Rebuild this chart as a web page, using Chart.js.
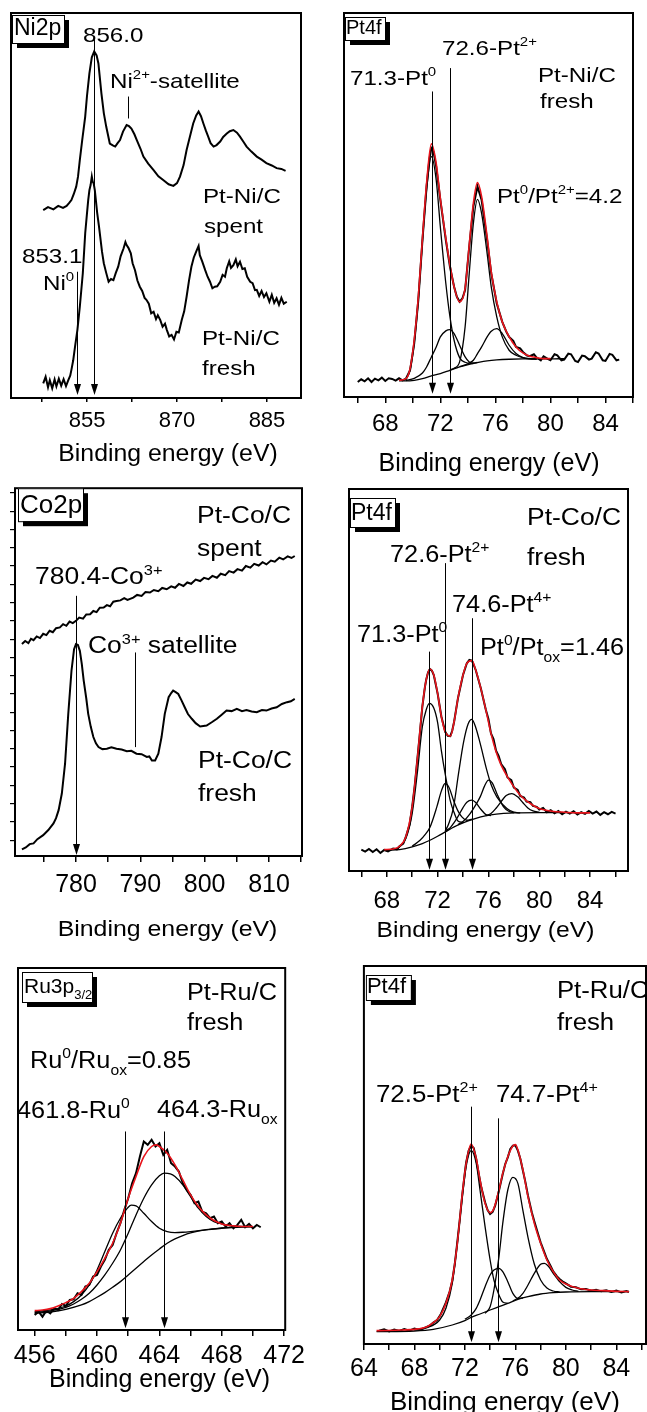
<!DOCTYPE html>
<html>
<head>
<meta charset="utf-8">
<script src="https://cdn.jsdelivr.net/npm/chart.js@4.4.1/dist/chart.umd.min.js"></script>
<style>
  body { margin: 0; background: #fff; width: 647px; height: 1412px; overflow: hidden; position: relative; }
  canvas { position: absolute; }
</style>
</head>
<body>
<script>
// ---------------------------------------------------------------
// Data (binding energy in eV, intensity in arbitrary units)
// ---------------------------------------------------------------

// Ni2p, Pt-Ni/C
const niTicks = [847.5, 855, 862.5, 870, 877.5, 885];
const niTickLabels = ['', '855', '', '870', '', '885'];
const niSpent = [[847.7,48.8],[848.5,49.6],[849.4,49.0],[850.2,49.9],[851.0,49.4],[851.6,49.9],[852.0,50.6],[852.4,51.4],[852.8,53.0],[853.2,54.9],[853.5,57.5],[853.8,61.8],[854.2,67.0],[854.7,73.1],[855.0,78.5],[855.4,84.3],[855.8,88.5],[856.2,90.0],[856.6,89.0],[856.9,86.9],[857.4,79.1],[857.8,74.0],[858.2,70.5],[858.8,66.1],[859.3,65.6],[859.7,65.3],[860.1,66.2],[860.5,67.0],[861.0,69.2],[861.6,70.9],[862.0,70.6],[862.4,70.0],[862.9,68.5],[863.3,67.0],[863.9,64.8],[864.4,62.7],[865.2,60.9],[866.1,59.2],[866.9,57.6],[867.7,56.6],[868.6,55.5],[869.4,55.1],[870.0,55.8],[870.5,57.5],[871.1,60.5],[871.6,64.4],[872.2,68.2],[872.7,71.3],[873.2,73.4],[873.6,74.4],[874.0,73.2],[874.4,71.3],[874.8,69.5],[875.2,67.9],[875.6,66.2],[876.1,65.3],[876.6,65.7],[877.2,66.6],[877.7,67.8],[878.3,68.7],[878.8,69.3],[879.4,69.6],[880.0,68.9],[880.5,67.9],[881.1,66.5],[881.6,65.3],[882.4,64.0],[883.3,62.7],[884.1,61.9],[884.9,61.0],[885.8,60.4],[886.6,59.7],[887.4,59.5],[888.1,59.0]];
const niFresh = [[847.7,3.8],[848.1,5.5],[848.5,2.8],[848.8,4.6],[849.2,2.5],[849.6,4.8],[849.9,3.0],[850.3,5.0],[850.7,3.2],[851.1,4.9],[851.5,3.1],[851.9,4.7],[852.2,5.8],[852.4,7.3],[852.7,9.8],[853.0,13.3],[853.4,17.7],[853.8,23.7],[854.3,32.4],[854.7,42.8],[855.0,48.0],[855.2,51.4],[855.4,54.0],[855.6,55.3],[855.8,57.5],[855.95,56.2],[856.1,55.8],[856.3,54.0],[856.5,51.0],[856.7,48.0],[857.0,44.5],[857.2,41.9],[857.5,38.0],[857.8,35.0],[858.2,32.5],[858.6,30.2],[859.0,30.9],[859.4,30.6],[859.8,32.5],[860.2,34.1],[860.6,36.8],[861.1,38.9],[861.4,40.5],[861.6,39.7],[861.9,39.0],[862.3,37.6],[862.6,35.0],[863.0,33.2],[863.4,30.5],[863.8,28.9],[864.2,27.8],[864.6,26.0],[864.9,25.5],[865.3,24.5],[865.7,22.0],[866.1,22.4],[866.5,20.5],[866.8,21.5],[867.2,20.3],[867.6,18.5],[868.0,19.3],[868.3,17.7],[868.7,16.0],[869.1,16.4],[869.5,15.2],[869.9,17.2],[870.3,17.0],[870.8,20.3],[871.2,22.5],[871.6,26.3],[872.0,30.5],[872.4,34.1],[872.8,36.5],[873.3,38.4],[873.6,39.5],[873.8,37.1],[874.2,35.5],[874.7,33.2],[875.1,31.5],[875.5,30.2],[875.9,28.5],[876.3,28.9],[876.7,29.0],[877.2,30.2],[877.6,32.0],[878.0,31.5],[878.3,33.7],[878.7,35.5],[879.0,33.8],[879.4,34.5],[879.8,36.0],[880.1,34.2],[880.5,35.4],[880.9,33.5],[881.3,33.7],[881.7,31.5],[882.2,30.2],[882.6,29.8],[883.0,28.0],[883.3,28.1],[883.7,26.5],[884.1,27.8],[884.5,26.2],[884.9,27.2],[885.4,25.0],[885.8,26.8],[886.2,24.7],[886.6,25.9],[887.0,24.2],[887.4,26.0],[887.8,24.5],[888.3,25.0]];

// Pt4f, Pt-Ni/C fresh
const ptTicks = [66, 68, 70, 72, 74, 76, 78, 80, 82, 84, 86];
const ptTickLabels = ['', '68', '', '72', '', '76', '', '80', '', '84', ''];
const ptNiData = [[66.0,4.5],[66.25,5.3],[66.5,4.7],[66.75,5.6],[67.0,4.5],[67.25,5.5],[67.5,5.0],[67.75,5.8],[68.0,4.8],[68.25,5.6],[68.5,5.4],[68.75,4.9],[69.0,5.6],[69.25,5.0],[69.5,5.5],[69.8,8.0],[70.1,16.0],[70.4,29.0],[70.7,47.0],[71.0,63.0],[71.2,71.0],[71.35,74.5],[71.5,73.5],[71.7,69.0],[72.0,59.0],[72.4,47.0],[72.7,39.0],[73.0,33.0],[73.2,30.0],[73.4,28.5],[73.6,29.5],[73.8,32.0],[74.1,45.0],[74.4,57.0],[74.7,63.0],[75.0,59.0],[75.4,47.0],[75.7,37.0],[76.1,28.0],[76.5,22.5],[76.8,19.5],[77.0,18.0],[77.3,16.8],[77.5,15.0],[77.8,14.6],[78.0,13.5],[78.3,12.4],[78.5,12.2],[78.8,12.8],[79.0,11.8],[79.3,11.0],[79.5,12.2],[79.8,11.4],[80.0,11.0],[80.3,12.8],[80.5,12.5],[80.8,11.0],[81.0,11.2],[81.3,13.0],[81.5,12.8],[81.8,10.8],[82.0,10.5],[82.3,12.4],[82.5,12.2],[82.8,11.2],[83.0,11.5],[83.3,13.4],[83.5,13.0],[83.8,11.0],[84.0,10.8],[84.3,12.9],[84.5,12.6],[84.8,11.0],[85.0,11.2]];
const ptNiEnv = [[69.0,5.0],[69.5,5.5],[69.8,8.5],[70.1,17.0],[70.4,30.0],[70.7,47.5],[71.0,64.0],[71.35,75.8],[71.7,70.0],[72.0,59.5],[72.4,47.5],[72.7,39.5],[73.0,33.0],[73.4,28.5],[73.8,32.5],[74.1,45.5],[74.4,58.0],[74.7,64.2],[75.0,60.0],[75.4,48.0],[75.7,37.5],[76.1,28.5],[76.5,22.5],[77.0,18.0],[77.5,15.0],[78.0,13.2],[78.5,12.2],[79.0,11.8],[79.5,11.5],[80.0,11.5]];
const ptNiPt0a = [[69.5,5.2],[69.8,8.0],[70.1,16.0],[70.4,29.0],[70.7,46.5],[71.0,62.0],[71.35,72.0],[71.7,65.0],[72.0,51.0],[72.4,34.0],[72.7,24.0],[73.0,17.0],[73.4,11.8],[73.8,10.4],[74.4,10.0]];
const ptNiPt0b = [[72.7,8.1],[73.0,8.6],[73.4,10.5],[73.8,21.0],[74.1,37.0],[74.4,52.0],[74.7,59.2],[75.0,55.0],[75.4,43.0],[75.7,33.0],[76.1,24.0],[76.5,18.0],[77.0,14.0],[77.5,12.5],[78.0,11.8],[78.5,11.5],[79.0,11.4]];
const ptNiPt2a = [[69.5,4.9],[70.1,5.6],[70.7,7.2],[71.0,9.0],[71.35,12.0],[71.7,15.0],[72.0,18.0],[72.4,19.8],[72.7,20.2],[73.0,19.0],[73.4,15.5],[73.8,12.0],[74.1,10.5],[74.4,10.2],[74.7,10.4]];
const ptNiPt2b = [[73.4,9.1],[73.8,9.6],[74.1,10.2],[74.4,11.0],[74.7,13.0],[75.0,15.0],[75.4,18.0],[75.7,19.7],[76.1,20.5],[76.5,19.0],[77.0,15.5],[77.5,13.0],[78.0,11.8],[78.5,11.4],[79.0,11.3]];
const ptNiBg = [[69.0,4.8],[69.5,4.8],[70.1,5.0],[70.7,5.5],[71.35,6.3],[72.0,7.0],[72.7,8.0],[73.4,9.0],[74.1,9.8],[74.7,10.3],[75.4,10.8],[76.1,11.1],[77.0,11.3],[78.0,11.4],[79.0,11.4],[80.0,11.4],[81.0,11.5]];

// Co2p, Pt-Co/C
const coTicks = [775, 780, 785, 790, 795, 800, 805, 810, 815];
const coTickLabels = ['', '780', '', '790', '', '800', '', '810', ''];
const coYTicks = [0,10,20,30,40,50,60,70,80,90,100,110,120,130,140,150,160,170,180,190];
const coSpent = [[771.6,107.3],[772.1,109.0],[772.6,107.8],[773.0,110.2],[773.4,109.4],[773.9,111.5],[774.4,110.6],[774.9,112.9],[775.4,112.2],[775.9,114.6],[776.4,113.8],[776.9,116.0],[777.5,116.4],[778.0,118.2],[778.5,117.3],[779.0,119.6],[779.5,118.8],[780.0,120.0],[780.5,121.8],[781.1,121.2],[781.6,123.5],[782.2,123.6],[782.7,125.4],[783.2,124.8],[783.7,127.2],[784.3,127.3],[784.8,128.6],[785.3,128.0],[785.8,130.5],[786.3,130.9],[786.9,131.2],[787.5,132.4],[788.0,131.5],[788.9,132.7],[789.5,134.2],[790.2,133.6],[790.8,135.8],[791.5,135.5],[792.1,136.9],[792.8,136.2],[793.4,138.0],[794.1,137.3],[794.8,138.9],[795.4,138.1],[796.0,140.2],[796.7,139.1],[797.3,141.0],[797.9,140.3],[798.6,142.6],[799.3,141.8],[799.9,143.5],[800.6,142.8],[801.2,144.6],[801.9,143.6],[802.5,145.8],[803.2,145.0],[803.8,147.2],[804.5,146.4],[805.1,148.3],[805.8,147.5],[806.4,150.0],[807.1,149.1],[807.7,151.2],[808.4,150.3],[809.0,152.1],[809.6,150.9],[810.3,153.0],[810.9,152.4],[811.6,154.6],[812.2,153.6],[812.9,155.3],[813.5,154.4],[814.0,155.5]];
const coFresh = [[771.6,-5.1],[772.2,-4.0],[772.8,-2.2],[773.4,-1.8],[774.0,0.5],[774.9,2.7],[775.7,5.5],[776.5,9.1],[776.9,12.0],[777.3,16.4],[777.8,25.5],[778.3,41.8],[778.8,69.1],[779.3,92.7],[779.7,104.5],[780.0,107.3],[780.3,106.8],[780.6,103.6],[780.9,96.5],[781.2,87.3],[781.6,77.5],[781.9,69.1],[782.3,62.0],[782.7,56.4],[783.1,53.0],[783.5,50.9],[784.1,49.8],[784.8,50.0],[785.5,50.8],[786.3,50.0],[787.1,49.6],[787.9,48.7],[788.6,48.9],[789.4,47.3],[790.2,47.0],[791.0,45.5],[791.4,45.8],[791.8,43.6],[792.3,43.6],[792.8,47.3],[793.3,56.4],[793.8,69.1],[794.4,78.2],[794.8,80.5],[795.1,81.8],[795.5,81.0],[795.9,80.0],[796.4,76.5],[796.9,72.7],[797.4,69.0],[798.0,66.4],[798.6,64.0],[799.3,62.2],[800.3,62.7],[801.1,64.5],[801.9,66.4],[802.6,68.5],[803.4,70.9],[804.2,70.6],[805.0,71.8],[805.8,70.6],[806.5,71.2],[807.3,70.4],[808.1,70.0],[808.9,71.2],[809.6,70.9],[810.4,72.0],[811.2,72.7],[812.0,74.5],[812.8,75.5],[813.4,76.0],[814.0,77.3]];

// Pt4f, Pt-Co/C fresh
const ptCoData = [[66.0,6.4],[66.3,5.8],[66.6,6.6],[66.9,5.7],[67.2,6.5],[67.5,5.4],[67.8,6.3],[68.1,5.9],[68.5,6.7],[68.8,6.5],[69.0,7.4],[69.3,8.2],[69.5,10.2],[69.8,14.0],[70.0,19.2],[70.2,25.5],[70.4,33.2],[70.6,41.0],[70.8,49.2],[71.0,55.0],[71.1,57.2],[71.25,59.5],[71.4,60.5],[71.55,60.0],[71.7,58.7],[72.0,53.2],[72.3,46.2],[72.6,41.7],[72.8,40.5],[73.0,40.4],[73.15,42.0],[73.3,44.7],[73.6,51.7],[74.0,58.7],[74.3,62.2],[74.5,63.2],[74.7,63.0],[75.0,60.2],[75.4,54.7],[75.8,48.2],[76.0,45.5],[76.2,41.2],[76.4,39.5],[76.6,36.0],[76.8,34.5],[77.0,32.0],[77.3,30.5],[77.5,28.0],[77.8,27.2],[78.0,25.0],[78.3,24.3],[78.5,22.5],[78.8,22.0],[79.0,20.8],[79.3,20.6],[79.5,19.5],[79.8,19.2],[80.0,18.4],[80.3,18.9],[80.6,17.6],[80.9,18.2],[81.2,17.3],[81.5,18.0],[81.8,17.0],[82.1,17.8],[82.4,17.2],[82.7,17.9],[83.0,16.9],[83.3,17.6],[83.6,17.1],[83.9,18.0],[84.2,17.2],[84.5,17.8],[84.8,16.8],[85.1,17.6],[85.4,17.0],[85.7,17.7],[86.0,17.2]];
const ptCoEnv = [[67.8,6.4],[68.5,6.6],[69.0,7.4],[69.5,10.2],[70.0,19.2],[70.4,33.2],[70.8,49.2],[71.1,57.2],[71.4,60.5],[71.7,58.7],[72.0,53.2],[72.3,46.2],[72.6,41.7],[73.0,40.4],[73.3,44.7],[73.6,51.7],[74.0,58.7],[74.3,62.2],[74.7,63.0],[75.0,60.2],[75.4,54.7],[75.8,48.2],[76.2,41.2],[76.6,35.7],[77.0,31.7],[77.5,28.2],[78.0,25.2],[78.5,22.7],[79.0,21.0],[79.5,19.7],[80.0,18.7],[81.0,17.9],[82.0,17.6],[83.0,17.4],[84.0,17.4]];
const ptCoPt0a = [[68.5,6.4],[69.0,7.2],[69.5,9.7],[70.0,17.2],[70.4,29.2],[70.8,43.2],[71.1,48.2],[71.35,50.2],[71.7,48.8],[72.0,44.5],[72.3,36.0],[72.6,29.0],[73.0,21.0],[73.3,17.5],[73.6,15.0],[74.0,14.6]];
const ptCoPt0b = [[72.6,12.0],[72.86,14.0],[73.25,19.0],[73.64,29.0],[74.04,38.5],[74.4,44.0],[74.69,45.4],[75.0,43.0],[75.35,38.2],[75.87,30.2],[76.2,26.0],[76.66,22.2],[77.45,18.7],[78.0,17.6],[78.5,17.4]];
const ptCoPt2a = [[70.0,7.4],[70.62,9.2],[71.0,10.8],[71.41,13.2],[71.94,19.2],[72.3,24.0],[72.59,26.2],[72.9,25.0],[73.25,21.2],[73.6,18.0],[73.91,16.2],[74.3,15.2],[74.7,15.5]];
const ptCoPt2b = [[73.6,13.9],[74.0,14.8],[74.56,17.2],[75.0,19.8],[75.35,22.2],[75.7,25.5],[76.0,27.2],[76.3,26.4],[76.66,23.2],[77.19,19.2],[77.6,17.9],[78.0,17.4]];
const ptCoPt4a = [[72.6,12.0],[73.0,13.0],[73.3,14.5],[73.6,16.3],[74.0,19.0],[74.3,20.6],[74.69,21.2],[75.0,20.5],[75.4,18.5],[75.8,16.9],[76.2,16.6]];
const ptCoPt4b = [[75.8,16.6],[76.2,17.2],[76.6,18.8],[77.0,20.8],[77.4,22.6],[77.84,23.2],[78.3,22.2],[78.7,20.5],[79.1,18.9],[79.5,18.0],[80.0,17.6]];
const ptCoBg = [[68.0,6.2],[69.0,6.4],[70.0,7.2],[70.8,8.2],[71.4,9.2],[72.0,10.4],[72.6,11.7],[73.3,13.2],[74.0,14.4],[74.7,15.4],[75.4,16.2],[76.2,16.8],[77.0,17.2],[78.0,17.4],[80.0,17.5],[84.0,17.5]];

// Ru3p3/2, Pt-Ru/C fresh
const ruTicks = [456, 458, 460, 462, 464, 466, 468, 470, 472];
const ruTickLabels = ['456', '', '460', '', '464', '', '468', '', '472'];
const ruData = [[456.0,4.5],[456.25,5.5],[456.5,4.0],[456.75,5.8],[457.0,5.0],[457.25,6.5],[457.5,6.0],[457.75,7.8],[458.0,7.2],[458.25,9.0],[458.5,9.2],[458.75,11.0],[459.0,10.5],[459.25,13.0],[459.5,13.5],[459.75,16.0],[460.0,16.5],[460.25,19.0],[460.5,21.0],[460.75,24.0],[461.0,25.5],[461.25,29.0],[461.5,32.0],[461.75,36.0],[462.0,39.5],[462.25,44.0],[462.5,47.0],[462.75,52.0],[463.0,56.5],[463.25,55.5],[463.5,57.0],[463.75,55.0],[464.0,56.0],[464.25,52.5],[464.5,54.0],[464.75,50.0],[465.0,49.0],[465.25,47.5],[465.5,44.0],[465.75,42.0],[466.0,40.5],[466.25,38.0],[466.5,38.5],[466.75,35.5],[467.0,35.0],[467.25,33.5],[467.5,34.0],[467.75,32.0],[468.0,32.5],[468.25,31.0],[468.5,32.0],[468.75,30.5],[469.0,31.5],[469.25,33.0],[469.5,30.8],[469.75,31.8],[470.0,30.5],[470.25,31.5],[470.5,30.8]];
const ruEnv = [[456.0,5.8],[456.5,6.0],[457.0,6.4],[457.5,7.2],[458.0,8.2],[458.5,9.5],[459.0,11.5],[459.5,14.0],[460.0,17.5],[460.5,21.5],[461.0,26.0],[461.5,32.0],[462.0,39.5],[462.5,46.0],[463.0,52.0],[463.5,55.0],[463.8,55.5],[464.0,55.0],[464.5,53.0],[465.0,49.5],[465.5,45.0],[466.0,40.5],[466.5,37.0],[467.0,34.5],[467.5,32.8],[468.0,31.8],[468.5,31.3],[469.0,31.1],[469.5,31.0],[470.0,31.0]];
const ruMetal = [[456.0,5.5],[457.0,6.0],[458.0,7.2],[458.5,8.5],[459.0,10.5],[459.5,13.5],[460.0,18.0],[460.5,23.5],[461.0,29.0],[461.5,33.5],[462.0,36.8],[462.2,37.4],[462.5,37.2],[463.0,35.0],[463.5,32.5],[464.0,30.5],[464.5,29.5],[465.0,29.2],[465.5,29.3],[466.0,29.5],[467.0,30.0],[468.0,30.5],[469.0,30.8],[470.0,31.0]];
const ruOx = [[456.0,5.2],[457.0,5.7],[458.0,6.8],[458.5,7.8],[459.0,9.2],[459.5,11.0],[460.0,13.5],[460.5,16.5],[461.0,20.0],[461.5,24.0],[462.0,29.0],[462.5,34.5],[463.0,39.5],[463.5,43.5],[464.0,46.2],[464.3,47.0],[464.7,46.8],[465.0,46.0],[465.5,43.5],[466.0,40.0],[466.5,36.5],[467.0,34.0],[467.5,32.5],[468.0,31.8],[468.5,31.3],[469.0,31.1],[470.0,31.0]];
const ruBg = [[456.0,5.0],[457.0,5.4],[458.0,6.2],[459.0,7.5],[459.5,8.5],[460.0,9.8],[460.5,11.2],[461.0,12.8],[461.5,14.5],[462.0,16.5],[462.5,18.5],[463.0,20.5],[463.5,22.5],[464.0,24.3],[464.5,26.0],[465.0,27.3],[465.5,28.3],[466.0,29.1],[467.0,30.1],[468.0,30.6],[469.0,30.9],[470.0,31.0]];

// Pt4f, Pt-Ru/C fresh
const ptRuTicks = [64, 66, 68, 70, 72, 74, 76, 78, 80, 82, 84, 86];
const ptRuTickLabels = ['64', '', '68', '', '72', '', '76', '', '80', '', '84', ''];
const ptRuData = [[65.2,4.0],[65.6,4.4],[66.0,3.8],[66.4,4.3],[66.8,3.9],[67.2,4.5],[67.6,4.0],[68.0,4.6],[68.4,4.2],[68.8,4.8],[69.2,5.5],[69.5,6.4],[69.8,7.2],[70.1,9.0],[70.5,12.5],[70.8,15.8],[71.0,19.0],[71.2,24.0],[71.4,30.5],[71.6,37.5],[71.8,45.0],[72.0,51.5],[72.1,54.5],[72.3,58.0],[72.5,59.5],[72.7,58.8],[72.9,55.5],[73.1,51.0],[73.3,47.0],[73.6,42.5],[73.8,40.2],[74.0,39.0],[74.2,39.6],[74.4,41.5],[74.7,46.0],[75.0,51.0],[75.2,54.0],[75.4,56.0],[75.6,58.5],[75.8,59.5],[76.0,59.6],[76.2,58.0],[76.4,55.5],[76.6,52.0],[76.8,48.5],[77.0,44.5],[77.3,39.5],[77.5,36.8],[77.8,33.0],[78.0,30.5],[78.3,27.5],[78.5,25.5],[78.8,23.3],[79.0,21.8],[79.3,20.3],[79.5,19.5],[79.8,18.6],[80.0,18.2],[80.4,17.2],[80.8,17.0],[81.2,16.4],[81.6,16.5],[82.0,16.0],[82.4,16.3],[82.8,15.8],[83.2,16.1],[83.6,15.6],[84.0,16.0],[84.4,15.5],[84.8,15.9],[85.0,15.6]];
const ptRuEnv = [[65.0,4.0],[67.0,4.2],[68.0,4.4],[69.0,5.2],[69.5,6.4],[70.0,8.2],[70.5,12.2],[71.0,19.2],[71.4,30.2],[71.8,45.2],[72.1,54.2],[72.5,60.0],[72.9,55.7],[73.2,49.2],[73.6,42.2],[74.0,39.4],[74.3,40.7],[74.7,46.2],[75.0,51.2],[75.4,56.2],[75.8,59.4],[76.0,59.8],[76.2,58.2],[76.6,52.2],[77.0,44.2],[77.5,36.2],[78.0,30.2],[78.5,25.2],[79.0,21.7],[79.5,19.2],[80.0,18.0],[81.0,16.7],[82.0,16.2],[83.0,16.0],[84.0,15.8],[85.0,15.7]];
const ptRuPt2a = [[68.0,4.2],[69.0,4.9],[70.0,7.2],[70.5,10.7],[71.0,18.2],[71.4,30.2],[71.8,44.2],[72.1,53.2],[72.5,58.0],[72.9,54.2],[73.2,46.2],[73.6,35.2],[74.0,25.2],[74.3,19.2],[74.7,14.7],[75.0,12.6],[75.4,12.2]];
const ptRuPt2b = [[73.6,9.2],[74.0,11.2],[74.3,16.2],[74.7,26.2],[75.0,36.2],[75.4,46.2],[75.8,50.0],[76.2,48.2],[76.6,40.0],[77.0,32.0],[77.5,24.0],[78.0,19.2],[78.5,16.8],[79.0,15.9],[79.5,15.6]];
const ptRuPt4a = [[72.0,7.4],[72.5,8.7],[72.9,10.7],[73.2,13.2],[73.6,17.2],[74.0,20.7],[74.3,22.2],[74.7,22.7],[75.0,21.7],[75.4,18.7],[75.8,15.2],[76.2,13.7],[76.6,13.8]];
const ptRuPt4b = [[75.8,13.0],[76.2,13.7],[76.6,15.2],[77.0,17.7],[77.5,21.2],[78.0,23.9],[78.3,24.2],[78.6,23.4],[79.0,21.2],[79.5,18.7],[80.0,17.0],[80.5,16.2],[81.0,15.8]];
const ptRuBg = [[65.0,3.7],[68.0,3.9],[69.5,4.4],[71.0,5.7],[72.0,7.0],[72.5,8.0],[73.2,9.0],[74.0,10.2],[74.7,11.2],[75.4,12.2],[76.2,13.4],[77.0,14.2],[78.0,15.0],[79.0,15.4],[80.0,15.6],[82.0,15.7],[85.0,15.7]];

// ---------------------------------------------------------------
// Helpers
// ---------------------------------------------------------------
const FONT = '"Liberation Sans", Arial, Helvetica, sans-serif';
const RED = '#e8141c';

function pts(arr) {
  return arr.map(p => ({ x: p[0], y: p[1] }));
}

function raw(arr) {      // measured spectrum
  return { data: pts(arr), borderColor: '#000', borderWidth: 2, pointRadius: 0, tension: 0, fill: false };
}
function fit(arr) {      // fitted component / background
  return { data: pts(arr), borderColor: '#000', borderWidth: 1.3, pointRadius: 0, cubicInterpolationMode: 'monotone', fill: false };
}
function envelope(arr) { // sum of the fit
  return { data: pts(arr), borderColor: RED, borderWidth: 1.6, pointRadius: 0, cubicInterpolationMode: 'monotone', fill: false };
}

// text with super/subscripts, optional horizontal stretch
function rich(ctx, parts, x, y, size, sx) {
  ctx.save();
  ctx.translate(x, y);
  ctx.scale(sx || 1, 1);
  ctx.textBaseline = 'alphabetic';
  ctx.textAlign = 'left';
  let cx = 0;
  parts.forEach(p => {
    const txt = typeof p === 'string' ? p : p[0];
    const kind = typeof p === 'string' ? '' : p[1];
    const fs = kind ? size * 0.62 : size;
    const dy = kind === 'sup' ? -size * 0.42 : (kind === 'sub' ? size * 0.3 : 0);
    ctx.font = fs + 'px ' + FONT;
    ctx.fillText(txt, cx, dy);
    cx += ctx.measureText(txt).width;
  });
  ctx.restore();
}

function decor(cfg) {
  return {
    id: 'decor',
    afterDraw(chart) {
      const { ctx, chartArea: a, scales: { x, y } } = chart;
      ctx.save();
      ctx.fillStyle = '#000';
      ctx.strokeStyle = '#000';

      // arrows / marker lines
      cfg.arrows.forEach(ar => {
        const px = Math.round(x.getPixelForValue(ar.e)) + 0.5;
        const y0 = y.getPixelForValue(ar.from);
        const y1 = y.getPixelForValue(ar.to);
        ctx.lineWidth = 1;
        ctx.beginPath();
        ctx.moveTo(px, y0);
        ctx.lineTo(px, ar.head ? y1 - 9 : y1);
        ctx.stroke();
        if (ar.head) {
          ctx.beginPath();
          ctx.moveTo(px, y1);
          ctx.lineTo(px - 3.5, y1 - 11);
          ctx.lineTo(px + 3.5, y1 - 11);
          ctx.closePath();
          ctx.fill();
        }
      });

      // frame
      ctx.lineWidth = 2;
      ctx.strokeRect(a.left, a.top, a.right - a.left, a.bottom - a.top);

      // panel label with drop shadow
      const b = cfg.box;
      ctx.fillRect(a.left + b.x + 5, a.top + b.y + 5, b.w, b.h);
      ctx.fillStyle = '#fff';
      ctx.fillRect(a.left + b.x, a.top + b.y, b.w, b.h);
      ctx.lineWidth = 1;
      ctx.strokeRect(a.left + b.x + 0.5, a.top + b.y + 0.5, b.w, b.h);
      ctx.fillStyle = '#000';
      rich(ctx, b.t, a.left + b.x + b.tx, a.top + b.ty, b.s, 1);

      // annotations
      cfg.notes.forEach(n => rich(ctx, n.t, a.left + n.x, a.top + n.y, n.s, n.sx));

      // axis title
      const t = cfg.title;
      ctx.save();
      ctx.translate(a.left + t.cx, a.bottom + t.dy);
      ctx.scale(t.sx, 1);
      ctx.font = t.s + 'px ' + FONT;
      ctx.textAlign = 'center';
      ctx.textBaseline = 'alphabetic';
      ctx.fillText('Binding energy (eV)', 0, 0);
      ctx.restore();

      ctx.restore();
    }
  };
}

function panel(cfg) {
  const padL = 14, padR = 8, padT = 6, bottomH = 92;
  const yW = cfg.yTicks ? 5 : 0;
  const f = cfg.frame;
  const w = padL + yW + f.w + padR;
  const h = padT + f.h + bottomH;
  const cv = document.createElement('canvas');
  cv.width = w; cv.height = h;
  cv.style.width = w + 'px'; cv.style.height = h + 'px';
  cv.style.left = (f.l - padL - yW) + 'px';
  cv.style.top = (f.t - padT) + 'px';
  document.body.appendChild(cv);

  const yScale = cfg.yTicks ? {
    min: cfg.yMin, max: cfg.yMax,
    afterBuildTicks: s => { s.ticks = cfg.yTicks.map(v => ({ value: v })); },
    afterFit: s => { s.width = yW; },
    ticks: { callback: () => '', padding: 0 },
    grid: { drawOnChartArea: false, drawTicks: true, tickLength: 5, color: '#000', lineWidth: 1.2 },
    border: { display: false }
  } : { display: false, min: cfg.yMin, max: cfg.yMax };

  new Chart(cv, {
    type: 'line',
    data: { datasets: cfg.datasets },
    options: {
      responsive: false,
      animation: false,
      events: [],
      layout: { padding: { left: padL, right: padR, top: padT, bottom: 0 } },
      plugins: { legend: { display: false }, tooltip: { enabled: false } },
      scales: {
        x: {
          type: 'linear',
          min: cfg.xMin, max: cfg.xMax,
          afterBuildTicks: s => { s.ticks = cfg.ticks.map(v => ({ value: v })); },
          afterFit: s => { s.height = bottomH; },
          ticks: {
            autoSkip: false, maxRotation: 0, padding: cfg.tickPad, color: '#000',
            font: { family: FONT, size: cfg.tickSize },
            callback: (v, i) => cfg.tickLabels[i]
          },
          grid: { drawOnChartArea: false, drawTicks: true, tickLength: cfg.tickLen, color: '#000', lineWidth: 1.5 },
          border: { display: false }
        },
        y: yScale
      }
    },
    plugins: [decor(cfg)]
  });
}

// ---------------------------------------------------------------
// Panels
// ---------------------------------------------------------------
const S = 'sup', B = 'sub';

panel({
  frame: { l: 11, t: 13, w: 290, h: 385 },
  xMin: 842.33, xMax: 890.67, yMin: 0, yMax: 100,
  ticks: niTicks, tickLabels: niTickLabels, tickSize: 22, tickPad: 6, tickLen: 4,
  datasets: [raw(niSpent), raw(niFresh)],
  box: { x: 1, y: 2, w: 52, h: 28, t: ['Ni2p'], s: 23, tx: 2, ty: 22 },
  notes: [
    { t: ['856.0'], x: 72, y: 29, s: 21, sx: 1.15 },
    { t: ['Ni', ['2+', S], '-satellite'], x: 99, y: 75, s: 21, sx: 1.15 },
    { t: ['Pt-Ni/C'], x: 192, y: 190, s: 21, sx: 1.15 },
    { t: ['spent'], x: 193, y: 220, s: 21, sx: 1.15 },
    { t: ['853.1'], x: 11, y: 250, s: 21, sx: 1.15 },
    { t: ['Ni', ['0', S]], x: 32, y: 277, s: 21, sx: 1.15 },
    { t: ['Pt-Ni/C'], x: 191, y: 332, s: 21, sx: 1.15 },
    { t: ['fresh'], x: 191, y: 362, s: 21, sx: 1.15 }
  ],
  arrows: [
    { e: 856.17, from: 93.0, to: 0.8, head: true },
    { e: 853.33, from: 32.8, to: 0.8, head: true },
    { e: 861.9, from: 78.3, to: 72.6, head: false }
  ],
  title: { cx: 157, dy: 63, s: 23, sx: 1.08 }
});

panel({
  frame: { l: 344, t: 13, w: 289, h: 384 },
  xMin: 65, xMax: 86, yMin: 0, yMax: 115,
  ticks: ptTicks, tickLabels: ptTickLabels, tickSize: 24, tickPad: 7, tickLen: 6,
  datasets: [envelope(ptNiEnv), fit(ptNiPt0a), fit(ptNiPt0b), fit(ptNiPt2a), fit(ptNiPt2b), fit(ptNiBg), raw(ptNiData)],
  box: { x: 1, y: 4, w: 40, h: 23, t: ['Pt4f'], s: 20, tx: 1, ty: 21 },
  notes: [
    { t: ['72.6-Pt', ['2+', S]], x: 98, y: 42, s: 21, sx: 1.15 },
    { t: ['71.3-Pt', ['0', S]], x: 6, y: 72, s: 21, sx: 1.15 },
    { t: ['Pt-Ni/C'], x: 194, y: 69, s: 21, sx: 1.15 },
    { t: ['fresh'], x: 196, y: 95, s: 21, sx: 1.15 },
    { t: ['Pt', ['0', S], '/Pt', ['2+', S], '=4.2'], x: 153, y: 190, s: 21, sx: 1.15 }
  ],
  arrows: [
    { e: 71.4, from: 91.5, to: 1, head: true },
    { e: 72.7, from: 98.5, to: 1, head: true }
  ],
  title: { cx: 145, dy: 74, s: 25, sx: 1.0 }
});

panel({
  frame: { l: 15, t: 487, w: 287, h: 369 },
  xMin: 770.52, xMax: 815.13, yMin: -8.7, yMax: 192.6, yTicks: coYTicks,
  ticks: coTicks, tickLabels: coTickLabels, tickSize: 25, tickPad: 8, tickLen: 6,
  datasets: [raw(coSpent), raw(coFresh)],
  box: { x: 3, y: 0, w: 65, h: 33, t: ['Co2p'], s: 26, tx: 2, ty: 25 },
  notes: [
    { t: ['Pt-Co/C'], x: 182, y: 35, s: 23, sx: 1.15 },
    { t: ['spent'], x: 182, y: 68, s: 23, sx: 1.15 },
    { t: ['780.4-Co', ['3+', S]], x: 20, y: 96, s: 23, sx: 1.15 },
    { t: ['Co', ['3+', S], ' satellite'], x: 73, y: 165, s: 23, sx: 1.15 },
    { t: ['Pt-Co/C'], x: 183, y: 280, s: 23, sx: 1.15 },
    { t: ['fresh'], x: 183, y: 313, s: 23, sx: 1.15 }
  ],
  arrows: [
    { e: 780.0, from: 133.7, to: -8.2, head: true },
    { e: 789.2, from: 102.7, to: 50.9, head: false }
  ],
  title: { cx: 152.5, dy: 80, s: 22, sx: 1.13 }
});

panel({
  frame: { l: 349, t: 489, w: 279, h: 382 },
  xMin: 65.03, xMax: 86.98, yMin: 0, yMax: 114.4,
  ticks: ptTicks, tickLabels: ptTickLabels, tickSize: 24, tickPad: 10, tickLen: 6,
  datasets: [envelope(ptCoEnv), fit(ptCoPt0a), fit(ptCoPt0b), fit(ptCoPt2a), fit(ptCoPt2b), fit(ptCoPt4a), fit(ptCoPt4b), fit(ptCoBg), raw(ptCoData)],
  box: { x: 1, y: 9, w: 45, h: 29, t: ['Pt4f'], s: 23, tx: 1, ty: 31 },
  notes: [
    { t: ['Pt-Co/C'], x: 178, y: 36, s: 23, sx: 1.15 },
    { t: ['fresh'], x: 178, y: 76, s: 23, sx: 1.15 },
    { t: ['72.6-Pt', ['2+', S]], x: 41, y: 73, s: 23, sx: 1.1 },
    { t: ['74.6-Pt', ['4+', S]], x: 103, y: 123, s: 23, sx: 1.1 },
    { t: ['71.3-Pt', ['0', S]], x: 8, y: 153, s: 23, sx: 1.1 },
    { t: ['Pt', ['0', S], '/Pt', ['ox', B], '=1.46'], x: 131, y: 166, s: 23, sx: 1.1 }
  ],
  arrows: [
    { e: 71.3, from: 65.7, to: 0.4, head: true },
    { e: 72.6, from: 92.2, to: 0.4, head: true },
    { e: 74.7, from: 75.7, to: 0.4, head: true }
  ],
  title: { cx: 136.5, dy: 66, s: 22, sx: 1.12 }
});

panel({
  frame: { l: 18, t: 968, w: 284, h: 362 },
  xMin: 454.93, xMax: 472.07, yMin: 0, yMax: 108.5,
  ticks: ruTicks, tickLabels: ruTickLabels, tickSize: 25, tickPad: 5, tickLen: 6,
  datasets: [envelope(ruEnv), fit(ruMetal), fit(ruOx), fit(ruBg), raw(ruData)],
  box: { x: 4, y: 4, w: 70, h: 30, t: ['Ru3p', ['3/2', B]], s: 21, tx: 2, ty: 25 },
  notes: [
    { t: ['Pt-Ru/C'], x: 169, y: 32, s: 23, sx: 1.1 },
    { t: ['fresh'], x: 169, y: 62, s: 23, sx: 1.1 },
    { t: ['Ru', ['0', S], '/Ru', ['ox', B], '=0.85'], x: 12, y: 100, s: 23, sx: 1.1 },
    { t: ['461.8-Ru', ['0', S]], x: -1, y: 150, s: 23, sx: 1.1 },
    { t: ['464.3-Ru', ['ox', B]], x: 139, y: 149, s: 23, sx: 1.1 }
  ],
  arrows: [
    { e: 461.8, from: 59.5, to: 0.5, head: true },
    { e: 464.3, from: 59.5, to: 0.5, head: true }
  ],
  title: { cx: 141.5, dy: 57, s: 25, sx: 1.0 }
});

panel({
  frame: { l: 360, t: 966, w: 286, h: 378 },
  xMin: 64, xMax: 86.35, yMin: 0, yMax: 113.4,
  ticks: ptRuTicks, tickLabels: ptRuTickLabels, tickSize: 25, tickPad: 4, tickLen: 6,
  datasets: [envelope(ptRuEnv), fit(ptRuPt2a), fit(ptRuPt2b), fit(ptRuPt4a), fit(ptRuPt4b), fit(ptRuBg), raw(ptRuData)],
  box: { x: 2, y: 9, w: 45, h: 25, t: ['Pt4f'], s: 22, tx: 1, ty: 27 },
  notes: [
    { t: ['Pt-Ru/C'], x: 193, y: 32, s: 23, sx: 1.12 },
    { t: ['fresh'], x: 193, y: 64, s: 23, sx: 1.12 },
    { t: ['72.5-Pt', ['2+', S]], x: 12, y: 136, s: 24, sx: 1.08 },
    { t: ['74.7-Pt', ['4+', S]], x: 132, y: 136, s: 24, sx: 1.08 }
  ],
  arrows: [
    { e: 72.45, from: 71.2, to: 0.5, head: true },
    { e: 74.65, from: 67.7, to: 0.5, head: true }
  ],
  title: { cx: 141, dy: 66, s: 26, sx: 1.0 }
});
</script>
</body>
</html>
